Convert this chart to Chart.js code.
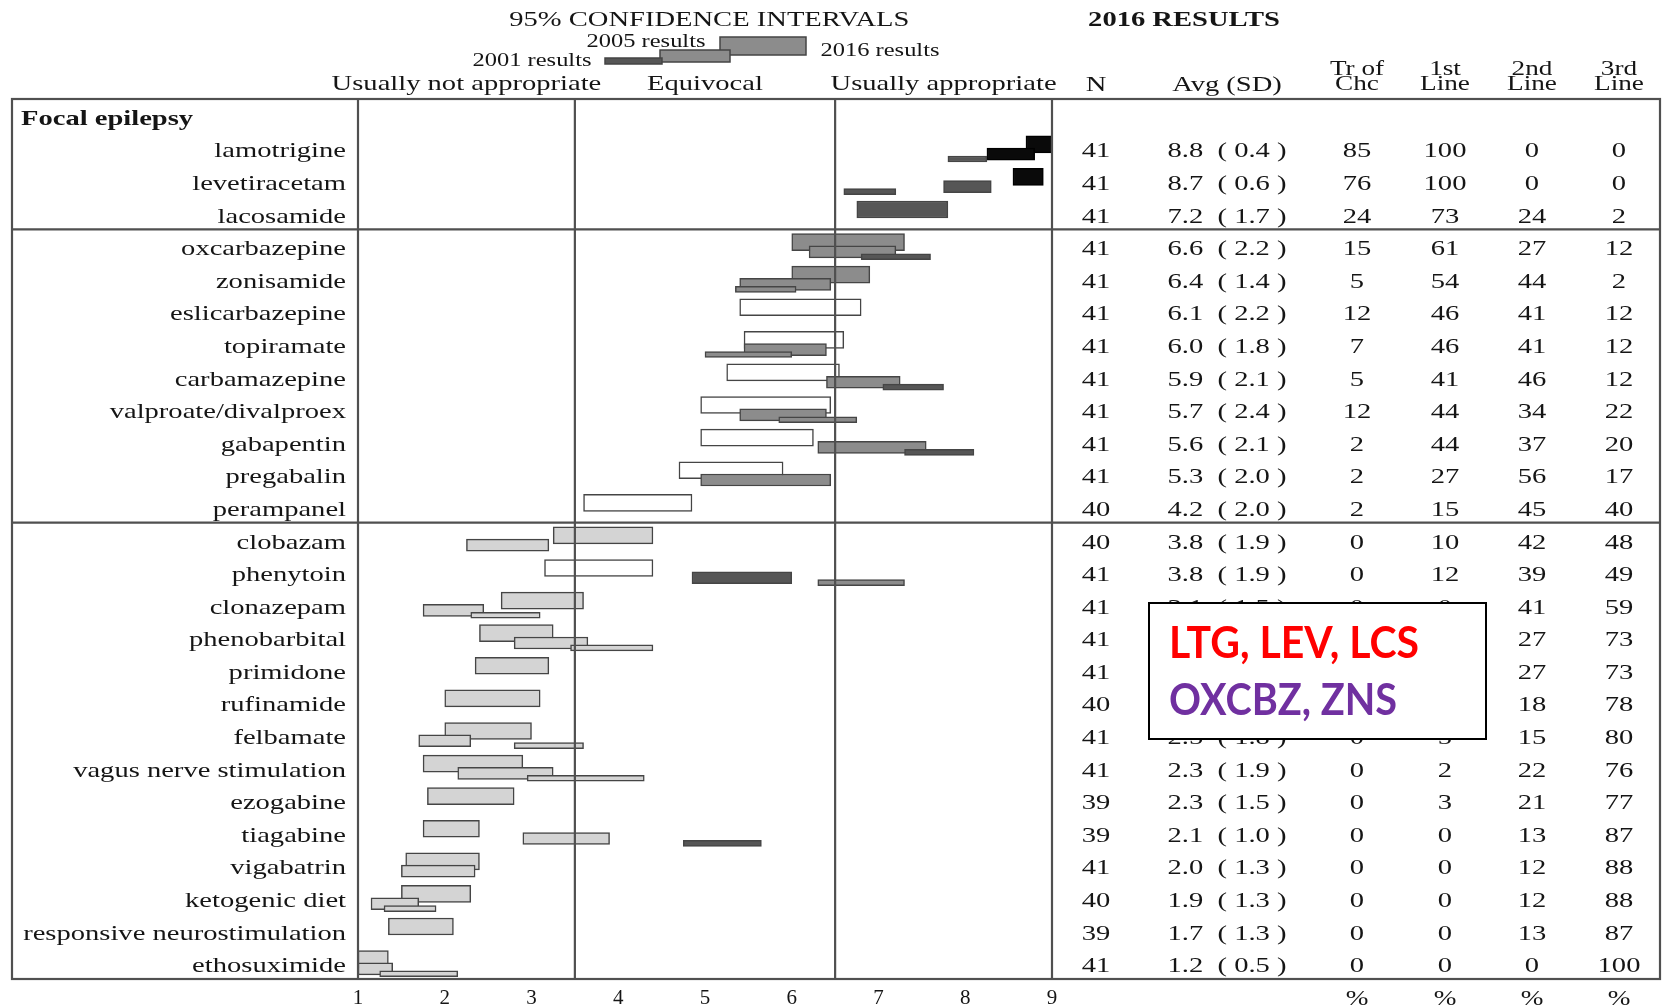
<!DOCTYPE html>
<html>
<head>
<meta charset="utf-8">
<script src="https://cdn.jsdelivr.net/npm/chart.js@4.4.1/dist/chart.umd.min.js"></script>
<style>
  html, body { margin: 0; padding: 0; background: #fff; }
  canvas { display: block; }
</style>
</head>
<body>
<canvas id="chart" width="1663" height="1007"></canvas>
<script>
// rows, top to bottom
const drugs = ['lamotrigine', 'levetiracetam', 'lacosamide', 'oxcarbazepine', 'zonisamide',
  'eslicarbazepine', 'topiramate', 'carbamazepine', 'valproate/divalproex', 'gabapentin',
  'pregabalin', 'perampanel', 'clobazam', 'phenytoin', 'clonazepam', 'phenobarbital',
  'primidone', 'rufinamide', 'felbamate', 'vagus nerve stimulation', 'ezogabine',
  'tiagabine', 'vigabatrin', 'ketogenic diet', 'responsive neurostimulation', 'ethosuximide'];
const groupTitle = 'Focal epilepsy';
const groupBreaks = [2.5, 11.5];

// 95% confidence intervals per survey year
const ci2016 = [[8.7, 9.0], [8.55, 8.9], [6.75, 7.8], [6.0, 7.3], [6.0, 6.9], [5.4, 6.8],
  [5.45, 6.6], [5.25, 6.55], [4.95, 6.45], [4.95, 6.25], [4.7, 5.9], [3.6, 4.85],
  [3.25, 4.4], [3.15, 4.4], [2.65, 3.6], [2.4, 3.25], [2.35, 3.2], [2.0, 3.1], [2.0, 3.0],
  [1.75, 2.9], [1.8, 2.8], [1.75, 2.4], [1.55, 2.4], [1.5, 2.3], [1.35, 2.1], [1.0, 1.35]];
const ci2005 = [[8.25, 8.8], [7.75, 8.3], null, [6.2, 7.2], [5.4, 6.45], null,
  [5.45, 6.4], [6.4, 7.25], [5.4, 6.4], [6.3, 7.55], [4.95, 6.45], null,
  [2.25, 3.2], [4.85, 6.0], [1.75, 2.45], [2.8, 3.65], null, null, [1.7, 2.3],
  [2.15, 3.25], null, [2.9, 3.9], [1.5, 2.35], [1.15, 1.7], null, [1.0, 1.4]];
const ci2001 = [[7.8, 8.25], [6.6, 7.2], null, [6.8, 7.6], [5.35, 6.05], null,
  [5.0, 6.0], [7.05, 7.75], [5.85, 6.75], [7.3, 8.1], null, null,
  null, [6.3, 7.3], [2.3, 3.1], [3.45, 4.4], null, null, [2.8, 3.6],
  [2.95, 4.3], null, [4.75, 5.65], null, [1.3, 1.9], null, [1.25, 2.15]];

// rating tier of each bar (1 = treatment of choice ... 5 = lowest)
const tier2016 = [1, 1, 2, 3, 3, 4, 4, 4, 4, 4, 4, 4, 5, 4, 5, 5, 5, 5, 5, 5, 5, 5, 5, 5, 5, 5];
const tier2005 = [1, 2, 0, 3, 3, 0, 3, 3, 3, 3, 3, 0, 5, 2, 5, 5, 0, 0, 5, 5, 0, 5, 5, 5, 0, 5];
const tier2001 = [2, 2, 0, 2, 3, 0, 3, 2, 3, 2, 0, 0, 0, 3, 5, 5, 0, 0, 5, 5, 0, 2, 0, 5, 0, 5];

// 2016 results table
const nResp = [41, 41, 41, 41, 41, 41, 41, 41, 41, 41, 41, 40, 40, 41, 41, 41, 41, 40, 41, 41, 39, 39, 41, 40, 39, 41];
const avg = [8.8, 8.7, 7.2, 6.6, 6.4, 6.1, 6.0, 5.9, 5.7, 5.6, 5.3, 4.2, 3.8, 3.8, 3.1, 2.8, 2.8, 2.6, 2.5, 2.3, 2.3, 2.1, 2.0, 1.9, 1.7, 1.2];
const sd = [0.4, 0.6, 1.7, 2.2, 1.4, 2.2, 1.8, 2.1, 2.4, 2.1, 2.0, 2.0, 1.9, 1.9, 1.5, 1.4, 1.6, 1.5, 1.8, 1.9, 1.5, 1.0, 1.3, 1.3, 1.3, 0.5];
const trOfChc = [85, 76, 24, 15, 5, 12, 7, 5, 12, 2, 2, 2, 0, 0, 0, 0, 0, 0, 0, 0, 0, 0, 0, 0, 0, 0];
const line1 = [100, 100, 73, 61, 54, 46, 46, 41, 44, 44, 27, 15, 10, 12, 0, 0, 0, 4, 5, 2, 3, 0, 0, 0, 0, 0];
const line2 = [0, 0, 24, 27, 44, 41, 41, 46, 34, 37, 56, 45, 42, 39, 41, 27, 27, 18, 15, 22, 21, 13, 12, 12, 13, 0];
const line3 = [0, 0, 2, 12, 2, 12, 12, 12, 22, 20, 17, 40, 48, 49, 59, 73, 73, 78, 80, 76, 77, 87, 88, 88, 87, 100];

const zones = [['Usually not appropriate', 1, 3.5], ['Equivocal', 3.5, 6.5], ['Usually appropriate', 6.5, 9]];
const callout = [['LTG, LEV, LCS', '#ff0000'], ['OXCBZ, ZNS', '#7030a0']];

// styling
const SERIF = '"Liberation Serif", "Times New Roman", serif';
const SX = 1.36;          // source picture is stretched sideways
const INK = '#151515';
const LINE = '#505050';
const SHADE = { 1: '#0a0a0a', 2: '#565656', 3: '#8c8c8c', 4: '#ffffff', 5: '#d4d4d4' };

function bars(ci, tiers, shift) {
  const out = [];
  ci.forEach((r, i) => { if (r) out.push({ x: r, y: i + shift, tier: tiers[i] }); });
  return out;
}

function dataset(label, ci, tiers, shift, thick, order) {
  return {
    label,
    data: bars(ci, tiers, shift),
    barThickness: thick,
    order,
    grouped: false,
    borderSkipped: false,
    borderWidth: 1.5,
    backgroundColor: c => SHADE[c.raw.tier],
    borderColor: c => (c.raw.tier === 1 ? '#000' : '#454545')
  };
}

function txt(ctx, s, x, y, size, align, bold, color) {
  ctx.save();
  ctx.font = (bold ? 'bold ' : '') + size + 'px ' + SERIF;
  ctx.fillStyle = color || INK;
  ctx.textAlign = align;
  ctx.textBaseline = 'alphabetic';
  ctx.translate(x, y);
  ctx.scale(SX, 1);
  ctx.fillText(s, 0, 0);
  ctx.restore();
}

const FRAME_L = 12, FRAME_R = 1660;
const COLS = { n: 44, avg: 175, tr: 305, l1: 393, l2: 480, l3: 567 };

const decor = {
  id: 'decor',
  beforeDraw(chart) {
    const ctx = chart.ctx;
    ctx.save();
    ctx.fillStyle = '#fff';
    ctx.fillRect(0, 0, chart.width, chart.height);
    ctx.restore();
  },
  afterDatasetsDraw(chart) {
    const { ctx, chartArea: a, scales: { x, y } } = chart;
    ctx.save();
    ctx.strokeStyle = LINE;
    ctx.lineWidth = 2.2;
    ctx.strokeRect(FRAME_L, a.top, FRAME_R - FRAME_L, a.bottom - a.top);
    ctx.beginPath();
    [1, 3.5, 6.5, 9].forEach(v => {
      const px = x.getPixelForValue(v);
      ctx.moveTo(px, a.top); ctx.lineTo(px, a.bottom);
    });
    groupBreaks.forEach(v => {
      const py = y.getPixelForValue(v);
      ctx.moveTo(FRAME_L, py); ctx.lineTo(FRAME_R, py);
    });
    ctx.stroke();
    ctx.restore();
  },
  afterDraw(chart) {
    const { ctx, chartArea: a, scales: { x, y } } = chart;
    const R = a.right;
    const base = v => y.getPixelForValue(v) + 9.5;

    // titles
    txt(ctx, '95% CONFIDENCE INTERVALS', x.getPixelForValue(5.05), 26, 21, 'center');
    txt(ctx, '2016 RESULTS', R + 132, 26, 21, 'center', true);

    // legend
    ctx.save();
    ctx.strokeStyle = '#444';
    ctx.lineWidth = 1.5;
    [[720, 37, 86, 18, SHADE[3]], [660, 50, 70, 12, SHADE[3]], [605, 58, 57, 6, SHADE[2]]].forEach(b => {
      ctx.fillStyle = b[4];
      ctx.fillRect(b[0], b[1], b[2], b[3]);
      ctx.strokeRect(b[0], b[1], b[2], b[3]);
    });
    ctx.restore();
    txt(ctx, '2005 results', 646, 47, 18, 'center');
    txt(ctx, '2001 results', 532, 66, 18, 'center');
    txt(ctx, '2016 results', 880, 56, 18, 'center');

    // column headers
    zones.forEach(z => {
      txt(ctx, z[0], (x.getPixelForValue(z[1]) + x.getPixelForValue(z[2])) / 2, 90, 21, 'center');
    });
    txt(ctx, 'N', R + COLS.n, 91, 21, 'center');
    txt(ctx, 'Avg (SD)', R + COLS.avg, 91, 21, 'center');
    [['Tr of', 'Chc', COLS.tr], ['1st', 'Line', COLS.l1], ['2nd', 'Line', COLS.l2], ['3rd', 'Line', COLS.l3]].forEach(h => {
      txt(ctx, h[0], R + h[2], 75, 20, 'center');
      txt(ctx, h[1], R + h[2], 90, 20, 'center');
    });

    // row labels and table
    txt(ctx, groupTitle, 21, base(-1), 21, 'left', true);
    drugs.forEach((d, i) => {
      const yy = base(i);
      txt(ctx, d, x.getPixelForValue(1) - 12, yy, 21, 'right');
      txt(ctx, String(nResp[i]), R + COLS.n, yy, 21, 'center');
      txt(ctx, avg[i].toFixed(1) + '  ( ' + sd[i].toFixed(1) + ' )', R + COLS.avg, yy, 21, 'center');
      txt(ctx, String(trOfChc[i]), R + COLS.tr, yy, 21, 'center');
      txt(ctx, String(line1[i]), R + COLS.l1, yy, 21, 'center');
      txt(ctx, String(line2[i]), R + COLS.l2, yy, 21, 'center');
      txt(ctx, String(line3[i]), R + COLS.l3, yy, 21, 'center');
    });
    [COLS.tr, COLS.l1, COLS.l2, COLS.l3].forEach(c => txt(ctx, '%', R + c, 1005, 20, 'center'));

    // call-out box
    ctx.save();
    ctx.fillStyle = '#fff';
    ctx.fillRect(1149, 603, 337, 136);
    ctx.strokeStyle = '#000';
    ctx.lineWidth = 2;
    ctx.strokeRect(1149, 603, 337, 136);
    ctx.font = 'bold 44px Lato, "Open Sans", sans-serif';
    ctx.textBaseline = 'alphabetic';
    ctx.textAlign = 'left';
    [[callout[0], 658, 250], [callout[1], 715, 228]].forEach(c => {
      const w = ctx.measureText(c[0][0]).width;
      ctx.save();
      ctx.translate(1169, c[1]);
      ctx.scale(c[2] / w, 1);
      ctx.fillStyle = c[0][1];
      ctx.fillText(c[0][0], 0, 0);
      ctx.restore();
    });
    ctx.restore();
  }
};

new Chart(document.getElementById('chart').getContext('2d'), {
  type: 'bar',
  data: {
    datasets: [
      dataset('2016 results', ci2016, tier2016, -0.11, 17, 2),
      dataset('2005 results', ci2005, tier2005, 0.19, 12, 1),
      dataset('2001 results', ci2001, tier2001, 0.34, 6, 0)
    ]
  },
  options: {
    indexAxis: 'y',
    responsive: false,
    animation: false,
    layout: { padding: { left: 358, right: 611, top: 99, bottom: 0 } },
    scales: {
      x: {
        type: 'linear', min: 1, max: 9,
        grid: { display: false, drawTicks: false },
        border: { display: false },
        ticks: { stepSize: 1, padding: 7, color: INK, font: { family: SERIF, size: 21 } },
        afterFit(s) { s.height = 28; }
      },
      y: { type: 'linear', min: -1.5, max: 25.5, reverse: true, offset: false, display: false }
    },
    plugins: { legend: { display: false }, tooltip: { enabled: false } }
  },
  plugins: [decor]
});
</script>
</body>
</html>
